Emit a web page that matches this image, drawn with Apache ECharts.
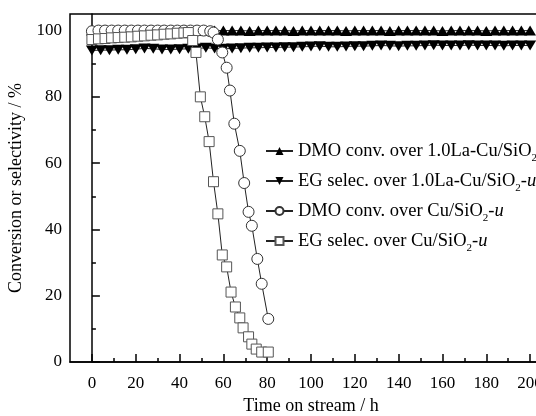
<!DOCTYPE html>
<html>
<head>
<meta charset="utf-8">
<script src="https://cdn.jsdelivr.net/npm/echarts@6/dist/echarts.min.js"></script>
<style>
  html, body { margin: 0; padding: 0; background: #fff; }
  #main { width: 536px; height: 416px; }
</style>
</head>
<body>
<div id="main"></div>
<script>
// tick values
var xMajor = [0, 20, 40, 60, 80, 100, 120, 140, 160, 180, 200];
var xMinor = [10, 30, 50, 70, 90, 110, 130, 150, 170, 190];
var yMajor = [0, 20, 40, 60, 80, 100];
var yMinor = [10, 30, 50, 70, 90];

// 1.0La-Cu/SiO2-u, every 4 h
var laTime = [0, 4, 8, 12, 16, 20, 24, 28, 32, 36, 40, 44, 48, 52, 56, 60, 64, 68, 72, 76,
  80, 84, 88, 92, 96, 100, 104, 108, 112, 116, 120, 124, 128, 132, 136, 140, 144, 148, 152, 156,
  160, 164, 168, 172, 176, 180, 184, 188, 192, 196, 200];
var laDmo = [100, 100, 99.9, 100, 100, 99.9, 100, 100, 100, 99.9, 100, 100, 100, 99.9, 100, 100, 100, 100, 99.9, 100,
  100, 100, 100, 99.9, 100, 100, 100, 100, 100, 99.9, 100, 100, 100, 100, 99.9, 100, 100, 100, 100, 100,
  99.9, 100, 100, 100, 100, 99.9, 100, 100, 100, 100, 100];
var laEg = [94.0, 94.1, 94.1, 94.2, 94.2, 94.4, 94.6, 94.5, 94.3, 94.3, 94.4, 94.5, 94.6, 94.8, 94.6, 94.5, 94.6, 94.7, 94.8, 94.8,
  94.9, 94.9, 95.0, 95.0, 95.1, 95.2, 95.3, 95.1, 95.1, 95.2, 95.3, 95.3, 95.4, 95.5, 95.4, 95.3, 95.4, 95.4, 95.5, 95.6,
  95.5, 95.5, 95.5, 95.6, 95.5, 95.5, 95.5, 95.4, 95.5, 95.5, 95.5];

// Cu/SiO2-u
var cuDmoTime = [0, 3, 6, 9, 12, 15, 18, 21, 24, 27, 30, 33, 36, 39, 42, 45, 48, 51, 54,
  55.5, 57.5, 59.5, 61.5, 63, 65, 67.5, 69.5, 71.5, 73, 75.5, 77.5, 80.5];
var cuDmo = [99.8, 100, 100, 100, 100, 100, 100, 100, 100, 100, 100, 100, 100, 100, 100, 100, 100, 100, 99.8,
  99.4, 97.3, 93.4, 88.8, 81.9, 71.9, 63.7, 54.0, 45.3, 41.1, 31.1, 23.6, 13.0];
var cuEgTime = [0, 3, 6, 9, 12, 15, 18, 21, 24, 27, 30, 33, 36, 39, 42, 44,
  46, 47.5, 49.5, 51.5, 53.5, 55.5, 57.5, 59.5, 61.5, 63.5, 65.5, 67.5, 69, 71.5, 73, 75, 77.5, 80.5];
var cuEg = [97.3, 97.5, 97.6, 97.8, 97.9, 98.0, 98.1, 98.3, 98.4, 98.6, 98.7, 98.9, 99.0, 99.2, 99.3, 99.4,
  97.0, 93.4, 80.0, 74.0, 66.5, 54.4, 44.7, 32.3, 28.7, 21.1, 16.6, 13.3, 10.3, 7.6, 5.4, 3.9, 3.0, 3.0];

var names = [
  'DMO conv. over 1.0La-Cu/SiO2-u',
  'EG selec. over 1.0La-Cu/SiO2-u',
  'DMO conv. over Cu/SiO2-u',
  'EG selec. over Cu/SiO2-u'
];

function pairs(t, v) {
  var out = [];
  for (var i = 0; i < t.length; i++) out.push([t[i], v[i]]);
  return out;
}

var FONT = '"Liberation Serif", "Times New Roman", serif';
var lineStyle = { color: '#222', width: 1 };

var myChart = echarts.init(document.getElementById('main'));
var option = {
  animation: false,
  backgroundColor: '#fff',
  textStyle: { fontFamily: FONT, color: '#000' },
  grid: {
    left: 70, top: 14, right: -16, bottom: 54,
    containLabel: false, outerBoundsMode: 'none',
    show: true, borderColor: '#000', borderWidth: 1.5
  },
  legend: {
    orient: 'vertical',
    left: 260, top: 137,
    itemWidth: 27, itemHeight: 10, itemGap: 8,
    data: names,
    formatter: function (name) {
      var base = name.replace('SiO2-u', '');
      return '{n|' + base + 'SiO}{s|2}{n|-}{i|u}';
    },
    textStyle: {
      fontFamily: FONT, color: '#000', fontSize: 18,
      rich: {
        n: { fontFamily: FONT, fontSize: 18.5, lineHeight: 20, verticalAlign: 'bottom' },
        s: { fontFamily: FONT, fontSize: 11, lineHeight: 20, verticalAlign: 'bottom', padding: [0, 0, -3, 0] },
        i: { fontFamily: FONT, fontSize: 18.5, fontStyle: 'italic', lineHeight: 20, verticalAlign: 'bottom' }
      }
    }
  },
  xAxis: [{
    type: 'value', min: -10, max: 210,
    name: 'Time on stream / h', nameLocation: 'middle', nameGap: 34,
    nameTextStyle: { fontFamily: FONT, fontSize: 18, color: '#000' },
    axisLine: { show: true, lineStyle: { color: '#000', width: 1.5 } },
    axisTick: { show: true, inside: true, length: 8, customValues: xMajor, lineStyle: { color: '#000', width: 1.5 } },
    axisLabel: { customValues: xMajor, fontFamily: FONT, fontSize: 17, color: '#000', margin: 13 },
    splitLine: { show: false }
  }, {
    type: 'value', min: -10, max: 210, position: 'bottom',
    axisLine: { show: false },
    axisTick: { show: true, inside: true, length: 4, customValues: xMinor, lineStyle: { color: '#000', width: 1.5 } },
    axisLabel: { show: false },
    splitLine: { show: false }
  }],
  yAxis: [{
    type: 'value', min: 0, max: 105,
    name: 'Conversion or selectivity / %', nameLocation: 'middle', nameGap: 36,
    nameTextStyle: { fontFamily: FONT, fontSize: 18, color: '#000' },
    axisLine: { show: true, lineStyle: { color: '#000', width: 1.5 } },
    axisTick: { show: true, inside: true, length: 8, customValues: yMajor, lineStyle: { color: '#000', width: 1.5 } },
    axisLabel: { customValues: yMajor, fontFamily: FONT, fontSize: 17, color: '#000', margin: 8 },
    splitLine: { show: false }
  }, {
    type: 'value', min: 0, max: 105, position: 'left',
    axisLine: { show: false },
    axisTick: { show: true, inside: true, length: 4, customValues: yMinor, lineStyle: { color: '#000', width: 1.5 } },
    axisLabel: { show: false },
    splitLine: { show: false }
  }],
  series: [{
    name: names[0], type: 'line',
    data: pairs(laTime, laDmo),
    symbol: 'path://M5,0L10,9L0,9Z', symbolSize: [12, 10],
    itemStyle: { color: '#000', borderWidth: 0 },
    lineStyle: lineStyle
  }, {
    name: names[1], type: 'line',
    data: pairs(laTime, laEg),
    symbol: 'path://M0,0L10,0L5,9Z', symbolSize: [12, 10],
    itemStyle: { color: '#000', borderWidth: 0 },
    lineStyle: lineStyle
  }, {
    name: names[2], type: 'line',
    data: pairs(cuDmoTime, cuDmo),
    symbol: 'circle', symbolSize: 11,
    itemStyle: { color: '#fff', borderColor: '#333', borderWidth: 1 },
    lineStyle: lineStyle
  }, {
    name: names[3], type: 'line',
    data: pairs(cuEgTime, cuEg),
    symbol: 'rect', symbolSize: 10,
    itemStyle: { color: '#fff', borderColor: '#555', borderWidth: 1 },
    lineStyle: lineStyle
  }]
};
myChart.setOption(option);
</script>
</body>
</html>
